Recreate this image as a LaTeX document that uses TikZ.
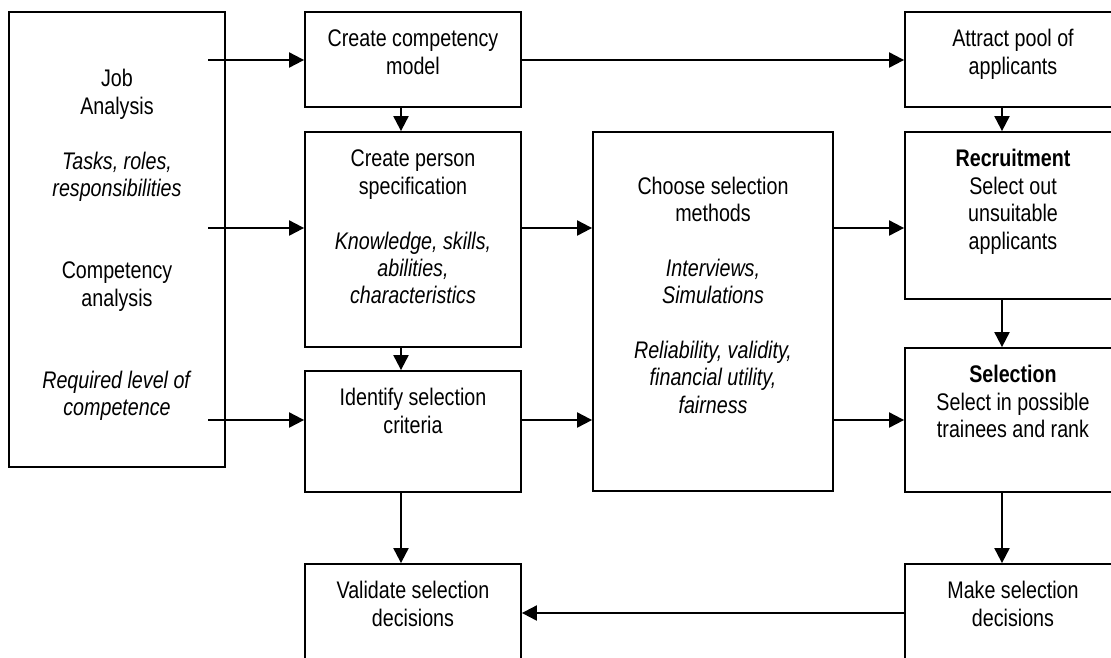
\documentclass[tikz,border=0pt]{standalone}
\usepackage{fontspec}
\setmainfont[FakeStretch=0.82]{Liberation Sans}
\usetikzlibrary{arrows.meta}
\begin{document}
\begin{tikzpicture}[x=1pt,y=-1pt,
  box/.style={draw, line width=1.8pt, inner sep=0pt},
  bigbox/.style={draw, line width=2.4pt, inner sep=0pt},
  txt/.style={inner sep=0pt, align=center, anchor=north, font=\fontsize{24}{27.4}\selectfont},
  arr/.style={line width=2pt, -{Triangle[length=15pt,width=15pt]}}]
\useasboundingbox (0,0) rectangle (1111,657);
\clip (0,0) rectangle (1111,657);
\fill[white] (0,0) rectangle (1111,657);

% boxes
\node[bigbox, minimum width=216pt, minimum height=455pt] (job) at (117,239.5) {};
\node[box, minimum width=216pt, minimum height=95pt] (ccm) at (413,59.5) {};
\node[box, minimum width=216pt, minimum height=215pt] (cps) at (413,239.5) {};
\node[box, minimum width=216pt, minimum height=121pt] (idc) at (413,431.5) {};
\node[box, minimum width=216pt, minimum height=136pt] (validate) at (413,632) {};
\node[box, minimum width=240pt, minimum height=359pt] (choose) at (713,311.5) {};
\node[box, minimum width=216pt, minimum height=95pt] (attract) at (1013,59.5) {};
\node[box, minimum width=216pt, minimum height=167pt] (recruit) at (1013,215.5) {};
\node[box, minimum width=216pt, minimum height=144pt] (sel) at (1013,420) {};
\node[box, minimum width=216pt, minimum height=136pt] (make) at (1013,632) {};

% texts
\node[txt, yshift=-56.7pt] (tjob) at (job.north) {\strut Job\\Analysis\\[27.4pt]\textit{Tasks, roles,}\\\textit{responsibilities}\\[54.8pt]Competency\\analysis\\[54.8pt]\textit{Required level of}\\\textit{competence}};
\node[txt, yshift=-16.4pt] (tccm) at (ccm.north) {\strut Create competency\\model};
\node[txt, yshift=-16.4pt] (tcps) at (cps.north) {\strut Create person\\specification\\[27.4pt]\textit{Knowledge, skills,}\\\textit{abilities,}\\\textit{characteristics}};
\node[txt, yshift=-16.4pt] (tidc) at (idc.north) {\strut Identify selection\\criteria};
\node[txt, yshift=-16.4pt] (tval) at (validate.north) {\strut Validate selection\\decisions};
\node[txt, yshift=-43.7pt] (tcho) at (choose.north) {\strut Choose selection\\methods\\[27.4pt]\textit{Interviews,}\\\textit{Simulations}\\[27.4pt]\textit{Reliability, validity,}\\\textit{financial utility,}\\\textit{fairness}};
\node[txt, yshift=-16.4pt] (tatt) at (attract.north) {\strut Attract pool of\\applicants};
\node[txt, yshift=-16.4pt] (trec) at (recruit.north) {\strut\textbf{Recruitment}\\Select out\\unsuitable\\applicants};
\node[txt, yshift=-16.4pt] (tsel) at (sel.north) {\strut\textbf{Selection}\\Select in possible\\trainees and rank};
\node[txt, yshift=-16.4pt] (tmak) at (make.north) {\strut Make selection\\decisions};

% helper coordinates
\coordinate (lx) at (208,0);
\coordinate (mx) at (401,0);
\coordinate (rx) at (1002,0);
\coordinate (ya) at (0,60);
\coordinate (yb) at (0,228);
\coordinate (yc) at (0,420);
\coordinate (yd) at (0,613);

% connectors
\draw[arr] (lx |- ya) -- (ccm.west |- ya);
\draw[arr] (lx |- yb) -- (cps.west |- yb);
\draw[arr] (lx |- yc) -- (idc.west |- yc);
\draw[arr] (ccm.east |- ya) -- (attract.west |- ya);
\draw[arr] (cps.east |- yb) -- (choose.west |- yb);
\draw[arr] (idc.east |- yc) -- (choose.west |- yc);
\draw[arr] (choose.east |- yb) -- (recruit.west |- yb);
\draw[arr] (choose.east |- yc) -- (sel.west |- yc);
\draw[arr] (ccm.south -| mx) -- (cps.north -| mx);
\draw[arr] (cps.south -| mx) -- (idc.north -| mx);
\draw[arr] (idc.south -| mx) -- (validate.north -| mx);
\draw[arr] (attract.south -| rx) -- (recruit.north -| rx);
\draw[arr] (recruit.south -| rx) -- (sel.north -| rx);
\draw[arr] (sel.south -| rx) -- (make.north -| rx);
\draw[arr] (make.west |- yd) -- (validate.east |- yd);
\end{tikzpicture}
\end{document}
